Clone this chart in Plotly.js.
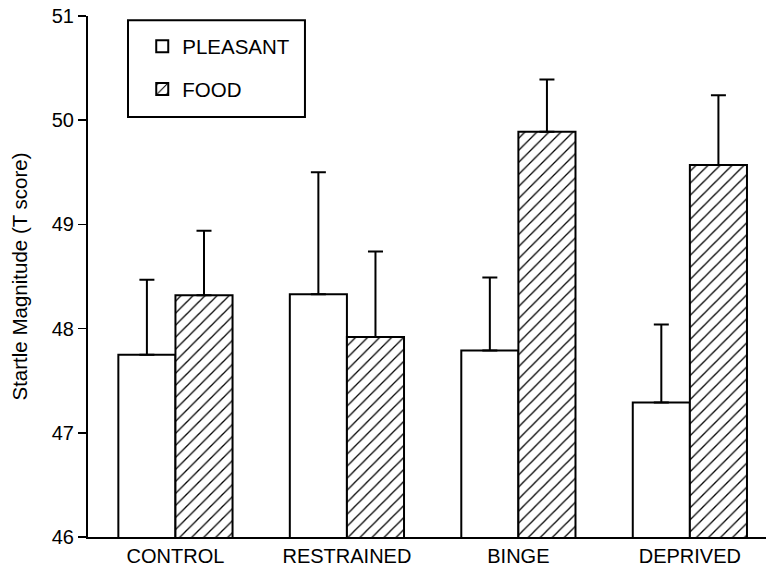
<!DOCTYPE html>
<html>
<head>
<meta charset="utf-8">
<script src="https://cdn.plot.ly/plotly-3.0.1.min.js"></script>
<style>html,body{margin:0;padding:0;background:#fff;}#chart{width:766px;height:573px;}</style>
</head>
<body>
<div id="chart"></div>
<script>
const categories = ["CONTROL", "RESTRAINED", "BINGE", "DEPRIVED"];
const pleasantMeans = [47.75, 48.33, 47.79, 47.29];
const pleasantUpper = [48.47, 49.50, 48.49, 48.04];
const foodMeans = [48.32, 47.92, 49.89, 49.57];
const foodUpper = [48.94, 48.74, 50.39, 50.24];
const yTicks = [46, 47, 48, 49, 50, 51];

const diff = (up, m) => up.map((u, i) => +(u - m[i]).toFixed(3));
const font = "'Liberation Sans', Arial, Helvetica, sans-serif";

const errStyle = {type: 'data', symmetric: false, color: '#000', thickness: 2, width: 7.5};

const traces = [
  {
    type: 'bar', name: 'PLEASANT', x: [0,1,2,3], y: pleasantMeans, legendgroup: 'a',
    marker: {color: '#fff', line: {color: '#000', width: 2}},
    error_y: Object.assign({}, errStyle, {array: diff(pleasantUpper, pleasantMeans), arrayminus: [0,0,0,0]})
  },
  {
    type: 'bar', name: 'FOOD', x: [0,1,2,3], y: foodMeans, legendgroup: 'b',
    marker: {color: '#fff', line: {color: '#000', width: 2},
      pattern: {shape: '/', size: 8.5, solidity: 0.15, fgcolor: '#000', bgcolor: '#fff', fillmode: 'replace'}},
    error_y: Object.assign({}, errStyle, {array: diff(foodUpper, foodMeans), arrayminus: [0,0,0,0]})
  }
];

const layout = {
  width: 766, height: 573,
  margin: {l: 88, r: 0, t: 16, b: 36},
  paper_bgcolor: '#fff', plot_bgcolor: '#fff',
  font: {family: font, color: '#000', size: 20},
  barmode: 'group', bargap: 0.334, bargroupgap: 0,
  showlegend: true,
  legend: {
    x: 0.080, y: 0.980, xanchor: 'left', yanchor: 'top',
    bgcolor: 'rgba(0,0,0,0)', borderwidth: 0,
    font: {family: font, size: 20.5, color: '#000'},
    traceorder: 'grouped', tracegroupgap: 13
  },
  xaxis: {
    range: [-0.51, 3.444], tickmode: 'array', tickvals: [0,1,2,3], ticktext: categories,
    showline: true, linecolor: '#000', linewidth: 2, ticks: '', showgrid: false, zeroline: false,
    tickfont: {family: font, size: 20, color: '#000'}, fixedrange: true
  },
  yaxis: {
    range: [46, 51], tickmode: 'array', tickvals: yTicks, ticktext: yTicks.map(String),
    showline: true, linecolor: '#000', linewidth: 2, ticks: 'outside', ticklen: 8, tickwidth: 1.5, tickcolor: '#000',
    showgrid: false, zeroline: false,
    tickfont: {family: font, size: 20, color: '#000'},
    title: {text: 'Startle Magnitude (T score)', font: {family: font, size: 20.5, color: '#000'}, standoff: 19}
  },
  shapes: [
    {type: 'rect', xref: 'paper', yref: 'paper', x0: 0.059, x1: 0.320, y0: 0.806, y1: 0.992,
     line: {color: '#000', width: 2}, fillcolor: 'rgba(0,0,0,0)', layer: 'above'}
  ]
};

Plotly.newPlot('chart', traces, layout, {displayModeBar: false, staticPlot: true});
</script>
</body>
</html>
